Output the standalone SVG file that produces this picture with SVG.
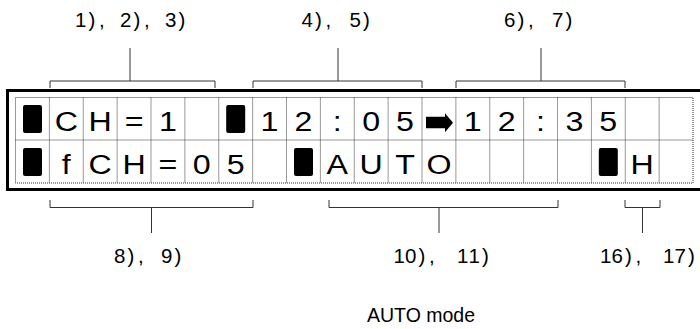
<svg xmlns="http://www.w3.org/2000/svg" width="700" height="329" viewBox="0 0 700 329">
<style>
.lbl{font-family:"Liberation Sans",Arial,sans-serif;font-size:20.5px;fill:#000}
.cap{font-family:"Liberation Sans",Arial,sans-serif;font-size:19.5px;fill:#000}
.ch{font-family:"Liberation Sans",Arial,sans-serif;font-size:28px;fill:#000;text-anchor:middle}
.grid{stroke:#333;stroke-width:1;stroke-dasharray:1 1;fill:none}
.br{stroke:#333;stroke-width:1;fill:none}
.blk{fill:#000}
</style>
<rect width="700" height="329" fill="#fff"/>
<g id="frame">
<rect x="7.5" y="90.5" width="696" height="99" fill="none" stroke="#000" stroke-width="3"/>
</g>
<g id="grid" class="grid">
<rect x="15.5" y="97.5" width="677.5" height="85.5"/>
<line x1="15.5" y1="140" x2="693" y2="140"/>
<path d="M49.38 97.5V183M83.25 97.5V183M117.13 97.5V183M151 97.5V183M184.88 97.5V183M218.75 97.5V183M252.63 97.5V183M286.5 97.5V183M320.38 97.5V183M354.25 97.5V183M388.13 97.5V183M422 97.5V183M455.88 97.5V183M489.75 97.5V183M523.63 97.5V183M557.5 97.5V183M591.38 97.5V183M625.25 97.5V183M659.13 97.5V183"/>
</g>
<g id="row1">
<rect class="blk" x="23" y="105" width="19" height="28" rx="2"/>
<text class="ch" transform="translate(66.31,131) scale(1.15,1)">C</text>
<text class="ch" transform="translate(100.19,131) scale(1.15,1)">H</text>
<text class="ch" transform="translate(134.06,131) scale(1.15,1)">=</text>
<text class="ch" transform="translate(167.94,131) scale(1.15,1)">1</text>
<rect class="blk" x="226.2" y="105" width="19" height="28" rx="2"/>
<text class="ch" transform="translate(269.56,131) scale(1.15,1)">1</text>
<text class="ch" transform="translate(303.44,131) scale(1.15,1)">2</text>
<text class="ch" transform="translate(337.31,131) scale(1.15,1)">:</text>
<text class="ch" transform="translate(371.19,131) scale(1.15,1)">0</text>
<text class="ch" transform="translate(405.06,131) scale(1.15,1)">5</text>
<polygon class="blk" points="426,116.7 445,116.7 445,113.3 453,122.8 445,132.3 445,128.3 426,128.3"/>
<text class="ch" transform="translate(472.81,131) scale(1.15,1)">1</text>
<text class="ch" transform="translate(506.69,131) scale(1.15,1)">2</text>
<text class="ch" transform="translate(540.56,131) scale(1.15,1)">:</text>
<text class="ch" transform="translate(574.44,131) scale(1.15,1)">3</text>
<text class="ch" transform="translate(608.31,131) scale(1.15,1)">5</text>
</g>
<g id="row2">
<rect class="blk" x="23" y="148" width="19" height="28" rx="2"/>
<text class="ch" transform="translate(66.31,174) scale(1.15,1)">f</text>
<text class="ch" transform="translate(100.19,174) scale(1.15,1)">C</text>
<text class="ch" transform="translate(134.06,174) scale(1.15,1)">H</text>
<text class="ch" transform="translate(167.94,174) scale(1.15,1)">=</text>
<text class="ch" transform="translate(201.81,174) scale(1.15,1)">0</text>
<text class="ch" transform="translate(235.69,174) scale(1.15,1)">5</text>
<rect class="blk" x="294" y="148" width="19" height="28" rx="2"/>
<text class="ch" transform="translate(337.31,174) scale(1.15,1)">A</text>
<text class="ch" transform="translate(371.19,174) scale(1.15,1)">U</text>
<text class="ch" transform="translate(405.06,174) scale(1.15,1)">T</text>
<text class="ch" transform="translate(438.94,174) scale(1.15,1)">O</text>
<rect class="blk" x="598.8" y="148" width="19" height="28" rx="2"/>
<text class="ch" transform="translate(642.19,174) scale(1.15,1)">H</text>
</g>
<g id="connectors" class="br">
<path d="M50 88V81H215V88M130 81V48"/>
<path d="M253 88V81H422V88M338 81V48"/>
<path d="M456 88V81H625V88M541 81V48"/>
<path d="M50 200V207.5H253V200M151.5 207.5V233"/>
<path d="M329 200V207.5H558V200M439 207.5V233"/>
<path d="M625 200V207.5H660V200M642.5 207.5V233"/>
</g>
<g id="labels">
<text class="lbl" x="75 88.5 99 120 133.5 144 165 178.5" y="27">1),2),3)</text>
<text class="lbl" x="301.5 315 325.5 349.5 363" y="27">4),5)</text>
<text class="lbl" x="504 517.5 528 552 565.5" y="27">6),7)</text>
<text class="lbl" x="114 127.5 138 161 174.5" y="263">8),9)</text>
<text class="lbl" x="393.5 405 418.5 429 457 468.5 482" y="263">10),11)</text>
<text class="lbl" x="600 611.5 625 635.5 663 674.5 688" y="263">16),17)</text>
<text class="cap" x="367" y="322">AUTO mode</text>
</g>
</svg>
